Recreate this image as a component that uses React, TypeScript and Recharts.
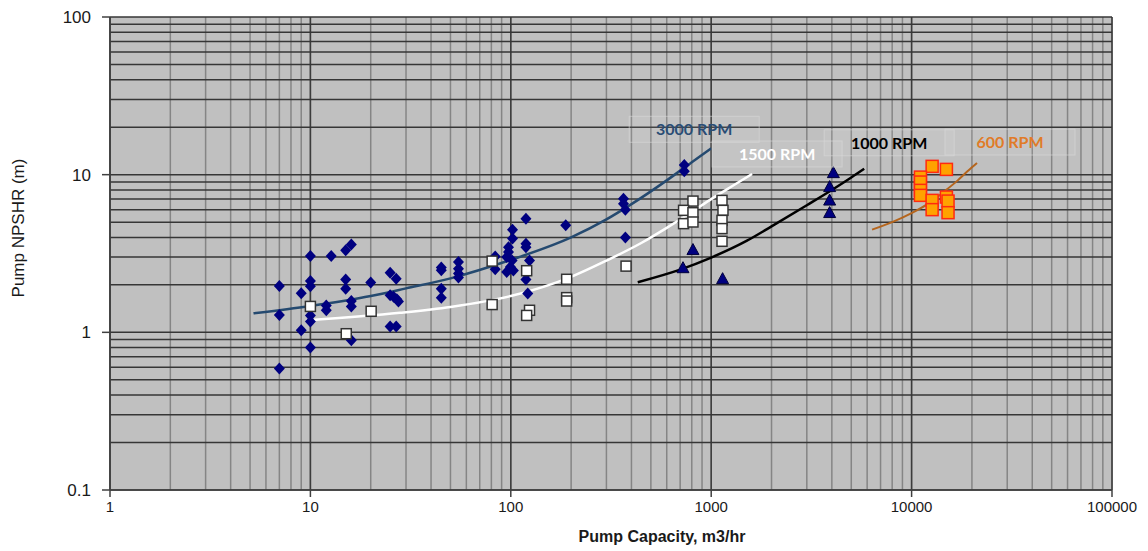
import React from "react";
import { ComposedChart, XAxis, YAxis, CartesianGrid, Scatter, Line, Label } from "recharts";

type Pt = { x: number; y: number };

// axis ticks (labels on the decades, grid on every 1..9 step)
const xMajorTicks = [1, 10, 100, 1000, 10000, 100000];
const yMajorTicks = [0.1, 1, 10, 100];
const minorSteps = [1, 2, 3, 4, 5, 6, 7, 8, 9];

const xGridTicks = xMajorTicks.slice(0, -1).flatMap((d) => minorSteps.map((m) => m * d)).concat([100000]);
const yGridTicks = yMajorTicks.slice(0, -1).flatMap((d) => minorSteps.map((m) => +(m * d).toPrecision(3))).concat([100]);

// measured pumps
const pumps3000: Pt[] = [
  { x: 7, y: 1.97 }, { x: 7, y: 1.29 }, { x: 7, y: 0.59 },
  { x: 9, y: 1.77 }, { x: 9, y: 1.03 },
  { x: 10, y: 3.05 }, { x: 10, y: 2.12 }, { x: 10, y: 1.96 }, { x: 10, y: 1.28 }, { x: 10, y: 1.17 }, { x: 10, y: 0.8 },
  { x: 12, y: 1.48 }, { x: 12, y: 1.38 }, { x: 12.7, y: 3.05 },
  { x: 15, y: 3.31 }, { x: 16, y: 3.61 }, { x: 15, y: 2.16 }, { x: 15, y: 1.89 },
  { x: 16, y: 1.58 }, { x: 16, y: 1.46 }, { x: 16, y: 0.89 },
  { x: 20, y: 2.07 },
  { x: 25, y: 2.39 }, { x: 26.8, y: 2.19 }, { x: 25, y: 1.72 }, { x: 26, y: 1.68 }, { x: 27, y: 1.62 }, { x: 27.5, y: 1.57 },
  { x: 25, y: 1.09 }, { x: 26.8, y: 1.09 },
  { x: 45, y: 2.58 }, { x: 45, y: 2.48 }, { x: 45, y: 1.89 }, { x: 45, y: 1.66 },
  { x: 54.8, y: 2.79 }, { x: 54.8, y: 2.53 }, { x: 54.8, y: 2.36 }, { x: 54.8, y: 2.23 },
  { x: 83.6, y: 3.03 }, { x: 83.6, y: 2.51 },
  { x: 102, y: 4.48 }, { x: 102, y: 3.93 }, { x: 97.4, y: 3.47 }, { x: 97.4, y: 3.23 }, { x: 95.4, y: 3.0 },
  { x: 101.5, y: 2.86 }, { x: 99.5, y: 2.6 }, { x: 95.4, y: 2.41 }, { x: 103, y: 2.47 },
  { x: 119, y: 5.26 }, { x: 119, y: 3.65 }, { x: 119, y: 3.47 }, { x: 124, y: 2.86 }, { x: 120, y: 2.36 },
  { x: 119, y: 2.16 }, { x: 121.5, y: 1.76 },
  { x: 188, y: 4.77 },
  { x: 365, y: 7.04 }, { x: 365, y: 6.55 }, { x: 373, y: 6.0 }, { x: 373, y: 3.99 },
  { x: 734, y: 11.5 }, { x: 734, y: 10.5 },
];

const pumps1500: Pt[] = [
  { x: 10, y: 1.46 }, { x: 15.1, y: 0.98 }, { x: 20.1, y: 1.36 },
  { x: 80.7, y: 2.83 }, { x: 80.7, y: 1.5 },
  { x: 120, y: 2.46 }, { x: 124, y: 1.38 }, { x: 120, y: 1.28 },
  { x: 190, y: 2.17 }, { x: 190, y: 1.66 }, { x: 190, y: 1.58 },
  { x: 376, y: 2.63 },
  { x: 811, y: 6.8 }, { x: 728, y: 5.94 }, { x: 811, y: 5.74 }, { x: 728, y: 4.89 }, { x: 811, y: 5.01 },
  { x: 1132, y: 6.87 }, { x: 1145, y: 5.94 }, { x: 1132, y: 5.13 }, { x: 1132, y: 4.55 }, { x: 1132, y: 3.78 },
];

const pumps1000: Pt[] = [
  { x: 811, y: 3.35 }, { x: 723, y: 2.57 }, { x: 1140, y: 2.19 },
  { x: 4070, y: 10.3 }, { x: 3900, y: 8.4 }, { x: 3900, y: 6.9 }, { x: 3900, y: 5.75 },
];

const pumps600: Pt[] = [
  { x: 12660, y: 11.29 }, { x: 14920, y: 10.8 },
  { x: 11070, y: 9.65 }, { x: 11070, y: 8.98 }, { x: 11070, y: 7.95 }, { x: 11070, y: 7.39 },
  { x: 12660, y: 6.87 }, { x: 12660, y: 6.0 },
  { x: 14920, y: 7.21 }, { x: 15200, y: 6.8 }, { x: 15200, y: 5.74 },
];

// trend lines
const trend3000: Pt[] = [
  { x: 5.2, y: 1.32 }, { x: 10, y: 1.47 }, { x: 20, y: 1.7 }, { x: 30, y: 1.9 }, { x: 50, y: 2.2 },
  { x: 100, y: 2.88 }, { x: 200, y: 4.0 }, { x: 300, y: 5.2 }, { x: 400, y: 6.5 }, { x: 600, y: 9.2 },
  { x: 800, y: 12.0 }, { x: 1000, y: 14.7 },
];
const trend1500: Pt[] = [
  { x: 9.5, y: 1.19 }, { x: 28, y: 1.33 }, { x: 50, y: 1.45 }, { x: 100, y: 1.7 }, { x: 200, y: 2.25 },
  { x: 300, y: 2.85 }, { x: 450, y: 3.7 }, { x: 600, y: 4.6 }, { x: 800, y: 5.8 }, { x: 1000, y: 7.0 },
  { x: 1300, y: 8.6 }, { x: 1600, y: 10.1 },
];
const trend1000: Pt[] = [
  { x: 430, y: 2.08 }, { x: 700, y: 2.5 }, { x: 1000, y: 2.98 }, { x: 1500, y: 3.8 }, { x: 2000, y: 4.7 },
  { x: 3000, y: 6.4 }, { x: 4000, y: 8.0 }, { x: 5000, y: 9.6 }, { x: 5800, y: 10.9 },
];
const trend600: Pt[] = [
  { x: 6350, y: 4.48 }, { x: 8000, y: 5.0 }, { x: 10000, y: 5.7 }, { x: 12000, y: 6.5 },
  { x: 14500, y: 7.8 }, { x: 17000, y: 9.2 }, { x: 19000, y: 10.5 }, { x: 21200, y: 11.85 },
];

const NAVY = "#000080";
const AXIS = "#404040";

const Diamond = (p: any) => (
  <path d={`M${p.cx},${p.cy - 6}L${p.cx + 5.5},${p.cy}L${p.cx},${p.cy + 6}L${p.cx - 5.5},${p.cy}Z`} fill={NAVY} />
);
const WhiteSquare = (p: any) => (
  <rect x={p.cx - 5} y={p.cy - 5} width={10} height={10} fill="#ffffff" stroke="#333333" strokeWidth={1.5} />
);
const Triangle = (p: any) => (
  <path d={`M${p.cx},${p.cy - 6}L${p.cx + 6},${p.cy + 5}L${p.cx - 6},${p.cy + 5}Z`} fill={NAVY} stroke="#00003a" strokeWidth={1} />
);
const OrangeSquare = (p: any) => (
  <rect x={p.cx - 6} y={p.cy - 6} width={12} height={12} fill="#ffa200" stroke="#ff2a10" strokeWidth={1.5} />
);

const fmt = (v: number) => String(v);

const YTick = (p: any) => {
  const v = p.payload.value;
  if (!yMajorTicks.some((t) => Math.abs(t - v) < 1e-9)) return null;
  return (
    <g>
      <line x1={p.x - 8} x2={p.x} y1={p.y} y2={p.y} stroke={AXIS} strokeWidth={1.5} />
      <text x={p.x - 19} y={p.y} dy={6} textAnchor="end" fontSize={17} fill="#1a1a1a" fontFamily="Liberation Sans, Arial">
        {fmt(v)}
      </text>
    </g>
  );
};

const XTick = (p: any) => {
  const v = p.payload.value;
  if (!xMajorTicks.includes(v)) return null;
  return (
    <g>
      <line x1={p.x} x2={p.x} y1={p.y} y2={p.y + 7} stroke={AXIS} strokeWidth={1.5} />
      <text x={p.x} y={p.y + 22} textAnchor="middle" fontSize={15} fill="#1a1a1a" fontFamily="Liberation Sans, Arial">
        {fmt(v)}
      </text>
    </g>
  );
};

const endLabel = (text: string, color: string, count: number, dx: number, dy: number) => (p: any) => {
  if (p.index !== count - 1) return null;
  const cx = p.x + dx;
  const cy = p.y + dy;
  return (
    <g>
      <rect x={cx - 65} y={cy - 13} width={130} height={26} fill="#ffffff" fillOpacity={0.07} stroke="#d8d8d8" strokeOpacity={0.6} />
      <text x={cx} y={cy} dy={6} textAnchor="middle" fontSize={16} fontWeight={700} fill={color} fontFamily="Lato, Open Sans, sans-serif">
        {text}
      </text>
    </g>
  );
};

export default function App() {
  return (
    <div style={{ width: 1132, height: 540, background: "#ffffff" }}>
      <ComposedChart width={1132} height={540} margin={{ top: 9, right: 28, left: 12, bottom: 0 }}>
        <XAxis
          dataKey="x"
          type="number"
          scale="log"
          domain={[1, 100000]}
          ticks={xGridTicks}
          interval={0}
          allowDataOverflow
          height={58}
          tickSize={0}
          tickMargin={0}
          tickLine={false}
          tick={<XTick />}
          axisLine={{ stroke: AXIS, strokeWidth: 1.5 }}
        >
          <Label
            content={(p: any) => (
              <text x={p.viewBox.x + 552} y={p.viewBox.y + 52} textAnchor="middle" fontSize={16} fontWeight={700} fill="#1a1a1a" fontFamily="Liberation Sans, Arial">
                Pump Capacity, m3/hr
              </text>
            )}
          />
        </XAxis>
        <XAxis xAxisId="major" dataKey="x" type="number" scale="log" domain={[1, 100000]} ticks={xMajorTicks} interval={0} allowDataOverflow hide />
        <YAxis
          type="number"
          scale="log"
          domain={[0.1, 100]}
          ticks={yGridTicks}
          interval={0}
          allowDataOverflow
          width={90}
          tickSize={0}
          tickMargin={0}
          tickLine={false}
          tick={<YTick />}
          axisLine={{ stroke: AXIS, strokeWidth: 1.5 }}
        >
          <Label
            content={(p: any) => {
              const cx = p.viewBox.x - 2;
              const cy = 220;
              return (
                <text x={cx} y={cy} dy={6} transform={`rotate(-90 ${cx} ${cy})`} textAnchor="middle" fontSize={17} fill="#1a1a1a" fontFamily="Liberation Sans, Arial">
                  Pump NPSHR (m)
                </text>
              );
            }}
          />
        </YAxis>

        <CartesianGrid horizontal={false} fill="#c0c0c0" stroke="#858585" strokeWidth={1.5} />
        <CartesianGrid xAxisId="major" horizontal={false} stroke="#3c3c3c" strokeWidth={1.5} />
        <CartesianGrid vertical={false} stroke="#363636" strokeWidth={1.5} />

        <Scatter data={pumps3000} dataKey="y" shape={Diamond} isAnimationActive={false} />
        <Scatter data={pumps1500} dataKey="y" shape={WhiteSquare} isAnimationActive={false} />
        <Scatter data={pumps1000} dataKey="y" shape={Triangle} isAnimationActive={false} />
        <Scatter data={pumps600} dataKey="y" shape={OrangeSquare} isAnimationActive={false} />

        <Line data={trend3000} dataKey="y" type="monotone" stroke="#254a70" strokeWidth={2.5} dot={false} isAnimationActive={false}
          label={endLabel("3000 RPM", "#2a4d75", trend3000.length, -17, -19)} />
        <Line data={trend1500} dataKey="y" type="monotone" stroke="#ffffff" strokeWidth={2.5} dot={false} isAnimationActive={false}
          label={endLabel("1500 RPM", "#ffffff", trend1500.length, 25, -20)} />
        <Line data={trend1000} dataKey="y" type="monotone" stroke="#000000" strokeWidth={2.5} dot={false} isAnimationActive={false}
          label={endLabel("1000 RPM", "#000000", trend1000.length, 25, -26)} />
        <Line data={trend600} dataKey="y" type="monotone" stroke="#b5651d" strokeWidth={2} dot={false} isAnimationActive={false}
          label={endLabel("600 RPM", "#e07b28", trend600.length, 33, -21)} />
      </ComposedChart>
    </div>
  );
}
